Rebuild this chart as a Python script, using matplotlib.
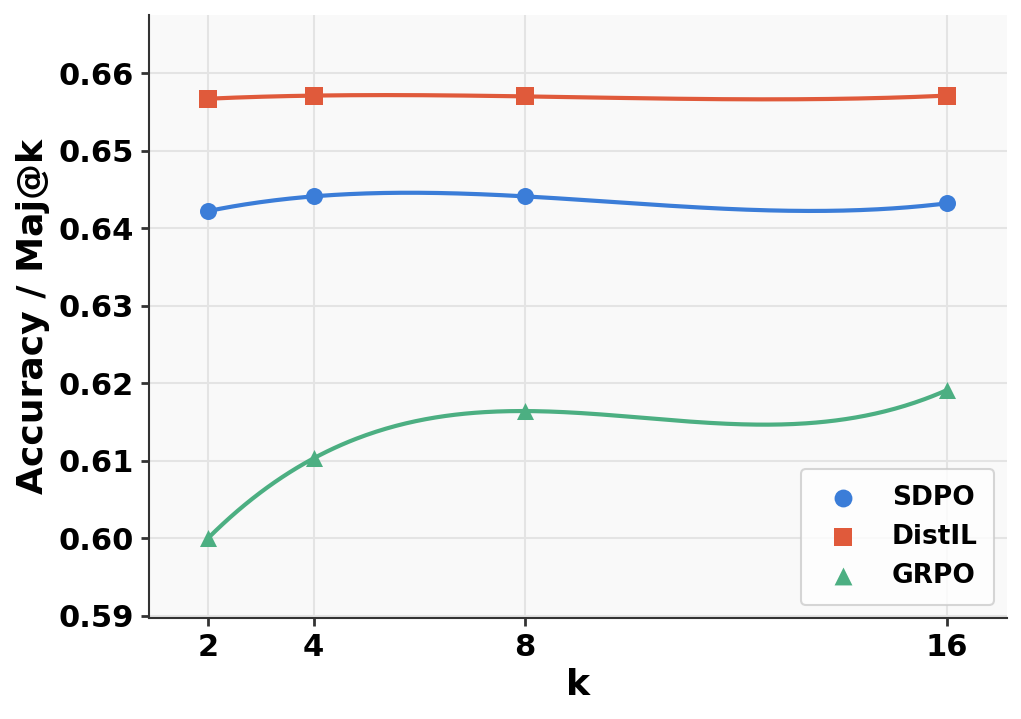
import matplotlib
matplotlib.use("Agg")
import matplotlib.pyplot as plt
import numpy as np

k_values = [2, 4, 8, 16]
sdpo = [0.6422, 0.6441, 0.6441, 0.6432]
distil = [0.6567, 0.6571, 0.6570, 0.6571]
grpo = [0.6000, 0.6103, 0.6164, 0.6191]

series = [
    ("SDPO", sdpo, "#3b7dd8", "o"),
    ("DistIL", distil, "#e05a3b", "s"),
    ("GRPO", grpo, "#4caf82", "^"),
]

plt.rcParams['font.family'] = 'DejaVu Sans'
plt.rcParams['font.weight'] = 'bold'

fig = plt.figure(figsize=(10.21, 7.19), dpi=100)
ax = fig.add_axes([149 / 1021, 1 - 618 / 719, (1007 - 149) / 1021, (618 - 15) / 719])
ax.set_facecolor("#f9f9f9")

xs = np.linspace(min(k_values), max(k_values), 300)
for name, vals, color, marker in series:
    # smooth cubic curve through the four points
    coef = np.polyfit(k_values, vals, 3)
    ax.plot(xs, np.polyval(coef, xs), color=color, lw=3, zorder=2)
    ax.scatter(k_values, vals, color=color, marker=marker, s=150, zorder=3,
               label=name, linewidths=0)

ax.set_xlim(0.88, 17.14)
ax.set_ylim(0.5897, 0.6675)
ax.set_xticks(k_values)
ax.set_yticks(np.arange(0.59, 0.6601, 0.01))
ax.yaxis.set_major_formatter(matplotlib.ticker.FormatStrFormatter("%.2f"))
ax.tick_params(labelsize=22, width=2, length=6, color="#333333", pad=5)
for lab in ax.get_xticklabels() + ax.get_yticklabels():
    lab.set_fontweight("bold")

ax.grid(True, color="#e4e4e4", lw=1.5)
ax.set_axisbelow(True)
for side in ["top", "right"]:
    ax.spines[side].set_visible(False)
for side in ["left", "bottom"]:
    ax.spines[side].set_color("#333333")
    ax.spines[side].set_linewidth(1.5)

ax.set_xlabel("k", fontsize=26, fontweight="bold", labelpad=4)
ax.set_ylabel("Accuracy / Maj@k", fontsize=26, fontweight="bold", labelpad=6)

leg = ax.legend(loc="lower right", prop={"weight": "bold", "size": 19},
                frameon=True, borderpad=0.6, labelspacing=0.5, handletextpad=0.85,
                borderaxespad=0.5, markerscale=1.05)
leg.get_frame().set_edgecolor("#cccccc")
leg.get_frame().set_linewidth(1.5)
leg.get_frame().set_facecolor("white")

fig.savefig("out.png", dpi=100)
